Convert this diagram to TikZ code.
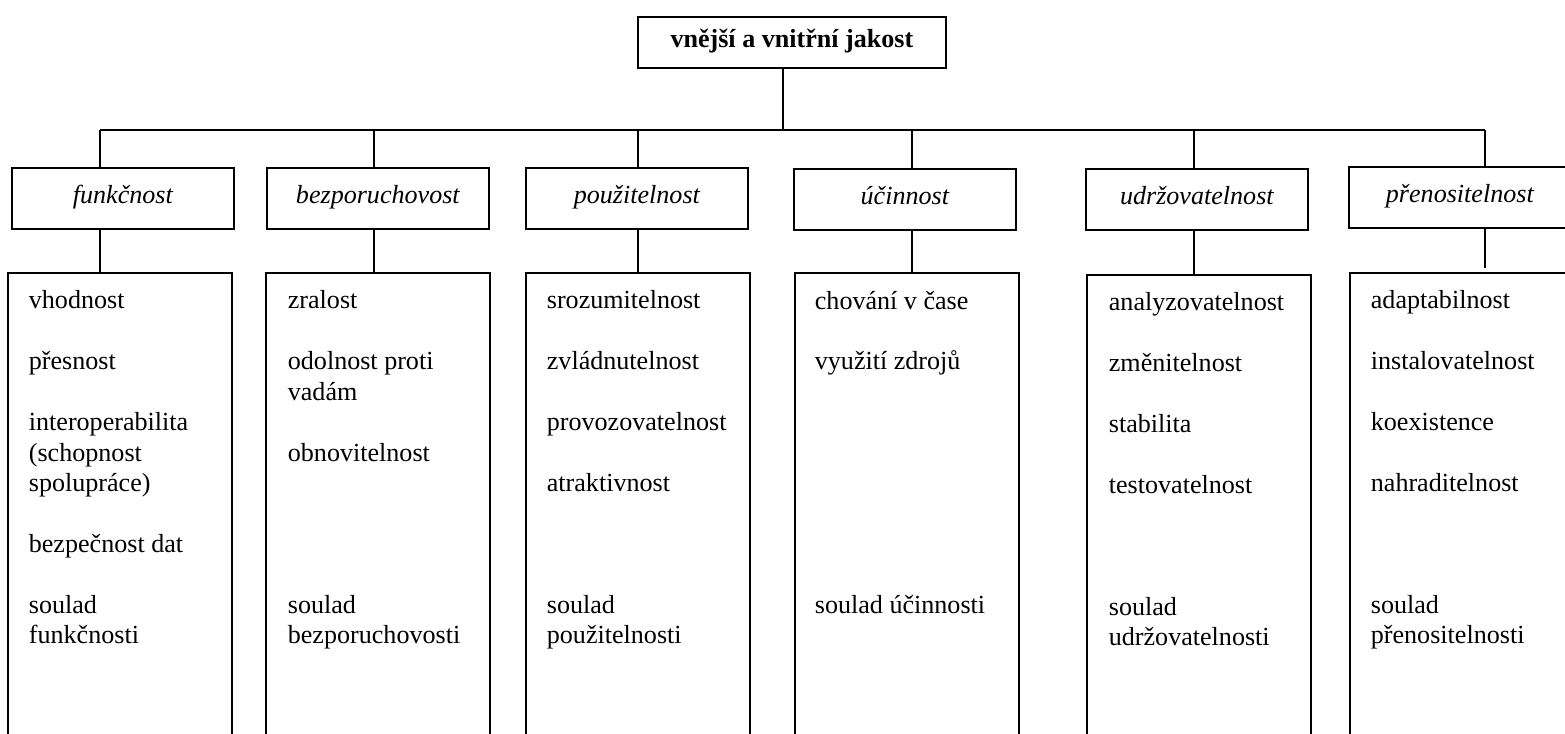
\documentclass[tikz,border=0pt]{standalone}
\usepackage{fontspec}
\setmainfont{Liberation Serif}
\usetikzlibrary{calc}

\newcommand{\gap}{\\[14pt]}

\begin{document}
\begin{tikzpicture}[
    x=0.46pt, y=-0.46pt, line width=0.8pt,
    all/.style={draw, inner sep=0pt, anchor=north west,
        text height=8.4pt, text depth=3.6pt},
    rootbox/.style={all, minimum width=141.7pt, minimum height=23.5pt,
        font=\fontsize{12}{14}\selectfont\bfseries},
    cat/.style={all, minimum width=102.1pt, minimum height=28.1pt,
        font=\fontsize{12}{14}\selectfont\itshape},
    det/.style={draw, inner sep=0pt, anchor=north west,
        minimum width=103pt, minimum height=222pt},
    items/.style={inner sep=0pt, anchor=north west, align=left,
        font=\fontsize{12}{14}\selectfont, execute at begin node=\strut},
]
    \useasboundingbox (0,0) rectangle (1565,734);
    \clip (0,0) rectangle (1565,734);

    % top
    \node [rootbox] (root) at (637,16) {vnější a vnitřní jakost};

    % characteristics
    \node [cat] (f) at (11,167) {funkčnost};
    \node [cat] (b) at (266,167) {bezporuchovost};
    \node [cat] (p) at (525,167) {použitelnost};
    \node [cat] (u) at (793,168) {účinnost};
    \node [cat] (m) at (1085,168) {udržovatelnost};
    \node [cat] (n) at (1348,166) {přenositelnost};

    % subcharacteristics
    \node [det] (fd) at (7,272) {};
    \node [det] (bd) at (265,272) {};
    \node [det] (pd) at (525,272) {};
    \node [det] (ud) at (794,272) {};
    \node [det] (md) at (1086,274) {};
    \node [det] (nd) at (1349,272) {};

    \node [items] (ft) at ($(fd.north west)+(21,18)$)
        {vhodnost\gap přesnost\gap interoperabilita\\(schopnost\\spolupráce)\gap
         bezpečnost dat\gap soulad\\funkčnosti};
    \node [items] (bt) at ($(bd.north west)+(22,18)$)
        {zralost\gap odolnost proti\\vadám\gap obnovitelnost\\[56pt]
         soulad\\bezporuchovosti};
    \node [items] (pt) at ($(pd.north west)+(21,18)$)
        {srozumitelnost\gap zvládnutelnost\gap provozovatelnost\gap
         atraktivnost\\[42pt] soulad\\použitelnosti};
    \node [items] (ut) at ($(ud.north west)+(20,18)$)
        {chování v čase\gap využití zdrojů\\[98pt] soulad účinnosti};
    \node [items] (mt) at ($(md.north west)+(22,18)$)
        {analyzovatelnost\gap změnitelnost\gap stabilita\gap
         testovatelnost\\[42pt] soulad\\udržovatelnosti};
    \node [items] (nt) at ($(nd.north west)+(21,18)$)
        {adaptabilnost\gap instalovatelnost\gap koexistence\gap
         nahraditelnost\\[42pt] soulad\\přenositelnosti};

    % connectors
    \coordinate (j0) at (783,130);
    \coordinate (j1) at (100,130);
    \coordinate (j2) at (374,130);
    \coordinate (j3) at (638,130);
    \coordinate (j4) at (912,130);
    \coordinate (j5) at (1194,130);
    \coordinate (j6) at (1485,130);

    \draw (root.south -| j0) -- (j0);
    \draw (j1) -- (j6);
    \draw (j1) -- (j1 |- f.north);
    \draw (j2) -- (j2 |- b.north);
    \draw (j3) -- (j3 |- p.north);
    \draw (j4) -- (j4 |- u.north);
    \draw (j5) -- (j5 |- m.north);
    \draw (j6) -- (j6 |- n.north);
    \draw (f.south -| j1) -- (j1 |- fd.north);
    \draw (b.south -| j2) -- (j2 |- bd.north);
    \draw (p.south -| j3) -- (j3 |- pd.north);
    \draw (u.south -| j4) -- (j4 |- ud.north);
    \draw (m.south -| j5) -- (j5 |- md.north);
    \draw [shorten >=2pt] (n.south -| j6) -- (j6 |- nd.north);
\end{tikzpicture}
\end{document}
